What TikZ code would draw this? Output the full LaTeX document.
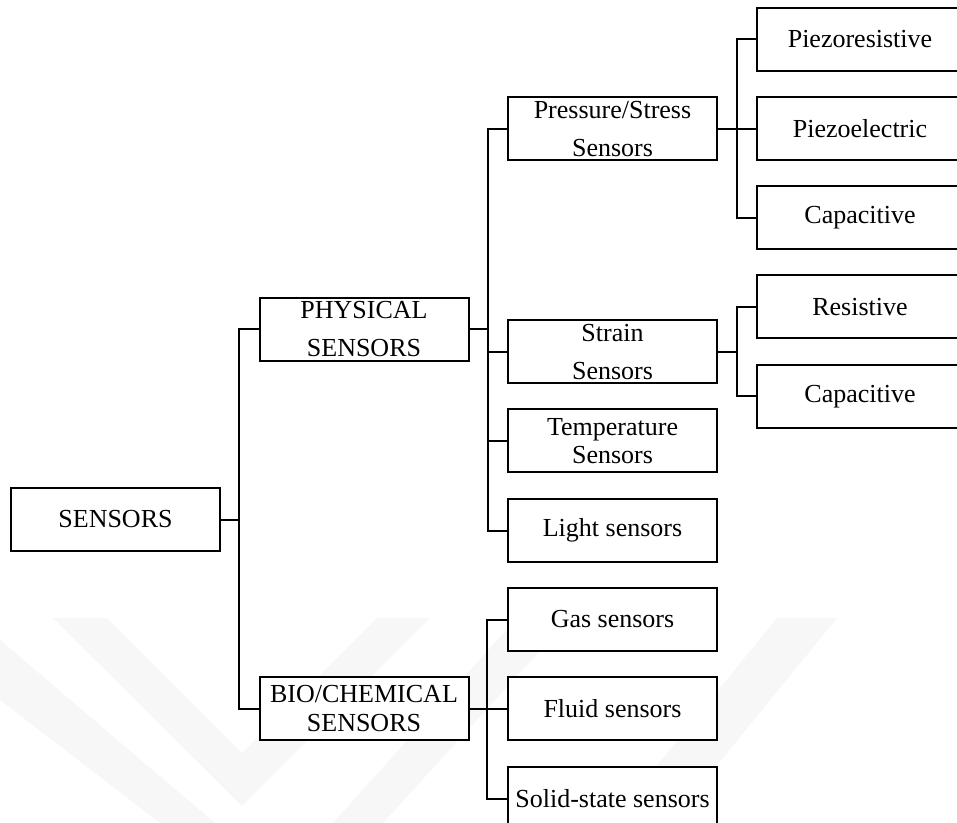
\documentclass[tikz,border=0pt]{standalone}
\usepackage{fontspec}
\setmainfont{Liberation Serif}
\begin{document}
\begin{tikzpicture}[x=0.75pt,y=-0.75pt,
  box/.style={draw=black, fill=white, line width=1.5pt, inner sep=0pt, align=center,
    minimum width=156.75pt, minimum height=47.25pt, font=\fontsize{19.5}{23}\selectfont},
  wide/.style={font=\fontsize{19.5}{28.5}\selectfont},
  tight/.style={font=\fontsize{19.5}{21.5}\selectfont},
  leaf/.style={box, minimum width=154.5pt},
  link/.style={line width=1.5pt, line join=miter},
  wm/.style={fill=black!3, draw=none}]
\useasboundingbox (0,0) rectangle (957,823);
\begin{scope}
\clip (0,0) rectangle (957,823);
% faint watermark
\fill[wm] (53,618) -- (107,618) -- (242,753) -- (377,618) -- (430,618) -- (242,806) -- cycle;
\fill[wm] (0,640) -- (215,823) -- (160,823) -- (0,700) -- cycle;
\fill[wm] (517,618) -- (570,618) -- (383,823) -- (333,823) -- cycle;
\fill[wm] (777,618) -- (837,618) -- (670,823) -- (610,823) -- cycle;
% nodes
\node[box] (sensors) at (115.5,519.5) {SENSORS};
\node[box, wide] (physical) at (364,329.5) {PHYSICAL\\SENSORS};
\node[box, tight] (bio) at (364,708.5) {BIO/CHEMICAL\\SENSORS};
\node[box, wide] (pressure) at (612.5,129) {Pressure/Stress\\Sensors};
\node[box, wide] (strain) at (612.5,352) {Strain\\Sensors};
\node[box, tight] (temp) at (612.5,441) {Temperature\\Sensors};
\node[box] (light) at (612.5,530.5) {Light sensors};
\node[box] (gas) at (612.5,619.5) {Gas sensors};
\node[box] (fluid) at (612.5,708.5) {Fluid sensors};
\node[box] (solid) at (612.5,798.5) {Solid-state sensors};
\node[leaf] (pzr) at (860,39.5) {Piezoresistive};
\node[leaf] (pze) at (860,129) {Piezoelectric};
\node[leaf] (cap1) at (860,218) {Capacitive};
\node[leaf] (res) at (860,307) {Resistive};
\node[leaf] (cap2) at (860,396.5) {Capacitive};
% trunk positions
\coordinate (t1) at ([xshift=-15pt]physical.west);
\coordinate (t2) at ([xshift=-14.25pt]pressure.west);
\coordinate (t3) at ([xshift=-14.25pt]res.west);
\coordinate (t4) at ([xshift=-14.25pt]pzr.west);
\coordinate (t5) at ([xshift=-15pt]gas.west);
% connectors
\draw[link] (physical.west) -- (t1) |- (bio.west);
\draw[link] (sensors.east) -- (sensors.east -| t1);
\draw[link] (pressure.west) -- (t2) |- (light.west);
\draw[link] (physical.east) -- (physical.east -| t2);
\draw[link] (strain.west) -- (strain.west -| t2);
\draw[link] (temp.west) -- (temp.west -| t2);
\draw[link] (pzr.west) -- (t4) |- (cap1.west);
\draw[link] (pressure.east) -- (pze.west);
\draw[link] (res.west) -- (t3) |- (cap2.west);
\draw[link] (strain.east) -- (strain.east -| t3);
\draw[link] (gas.west) -- (t5) |- (solid.west);
\draw[link] (bio.east) -- (fluid.west);
\end{scope}
\end{tikzpicture}
\end{document}
